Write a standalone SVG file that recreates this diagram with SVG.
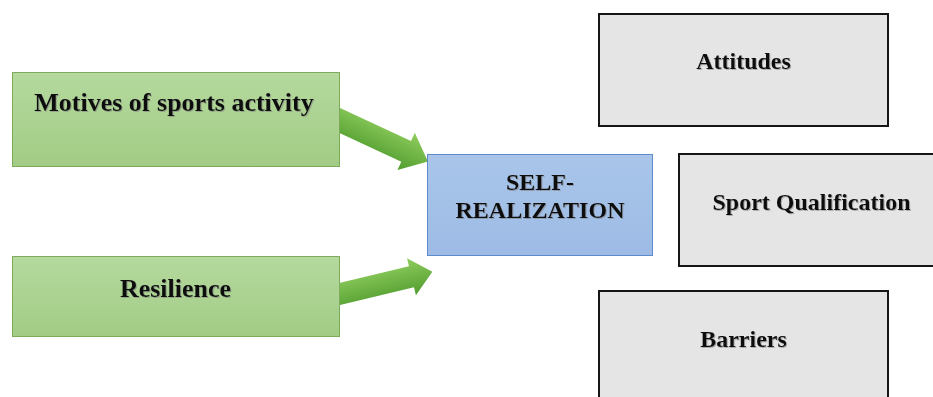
<svg xmlns="http://www.w3.org/2000/svg" width="933" height="397" viewBox="0 0 933 397">
  <defs>
    <linearGradient id="gGreen" x1="0" y1="0" x2="0" y2="1">
      <stop offset="0" stop-color="#b5d99e"/>
      <stop offset="1" stop-color="#a2cc85"/>
    </linearGradient>
    <linearGradient id="gBlue" x1="0" y1="0" x2="0" y2="1">
      <stop offset="0" stop-color="#a9c5ea"/>
      <stop offset="1" stop-color="#9dbbe5"/>
    </linearGradient>
    <linearGradient id="gArrow" x1="0" y1="0" x2="0" y2="1">
      <stop offset="0" stop-color="#8fcd5e"/>
      <stop offset="1" stop-color="#519c2e"/>
    </linearGradient>
    <filter id="shadow" x="-10%" y="-20%" width="120%" height="150%">
      <feDropShadow dx="1" dy="1" stdDeviation="0.7" flood-color="#777" flood-opacity="0.5"/>
    </filter>
  </defs>
  <style>
    .lbl { font-family: "Liberation Serif", "Times New Roman", serif; font-weight: bold; fill: #111; text-anchor: middle; filter: url(#shadow); }
    .green { fill: url(#gGreen); stroke: #7cab5c; stroke-width: 1; }
    .blue { fill: url(#gBlue); stroke: #5b8bc8; stroke-width: 1; }
    .gray { fill: #e6e5e6; stroke: #161616; stroke-width: 2; }
    .arrow { fill: url(#gArrow); }
  </style>
  <rect width="933" height="397" fill="#ffffff"/>
  <g id="connectors">
    <polygon class="arrow" transform="translate(340,120.6) rotate(25)" points="-10,-11.5 73,-11.5 73,-20.5 97,0 73,20.5 73,11.5 -10,11.5"/>
    <polygon class="arrow" transform="translate(340,294) rotate(-13.5)" points="-10,-10.8 73.5,-10.8 73.5,-19 95,0 73.5,19 73.5,10.8 -10,10.8"/>
  </g>
  <g id="motives">
    <rect class="green" x="12.5" y="72.5" width="327" height="94"/>
    <text class="lbl" x="174" y="111" font-size="26">Motives of sports activity</text>
  </g>
  <g id="resilience">
    <rect class="green" x="12.5" y="256.5" width="327" height="80"/>
    <text class="lbl" x="175.5" y="297" font-size="26">Resilience</text>
  </g>
  <g id="self-realization">
    <rect class="blue" x="427.5" y="154.5" width="225" height="101"/>
    <text class="lbl" x="540" y="190" font-size="24">SELF-</text>
    <text class="lbl" x="540" y="218" font-size="24">REALIZATION</text>
  </g>
  <g id="attitudes">
    <rect class="gray" x="599" y="14" width="289" height="112"/>
    <text class="lbl" x="743.5" y="69" font-size="24">Attitudes</text>
  </g>
  <g id="sport-qualification">
    <rect class="gray" x="679" y="154" width="260" height="112"/>
    <text class="lbl" x="811.5" y="210" font-size="24">Sport Qualification</text>
  </g>
  <g id="barriers">
    <rect class="gray" x="599" y="291" width="289" height="112"/>
    <text class="lbl" x="743.5" y="347" font-size="24">Barriers</text>
  </g>
</svg>
